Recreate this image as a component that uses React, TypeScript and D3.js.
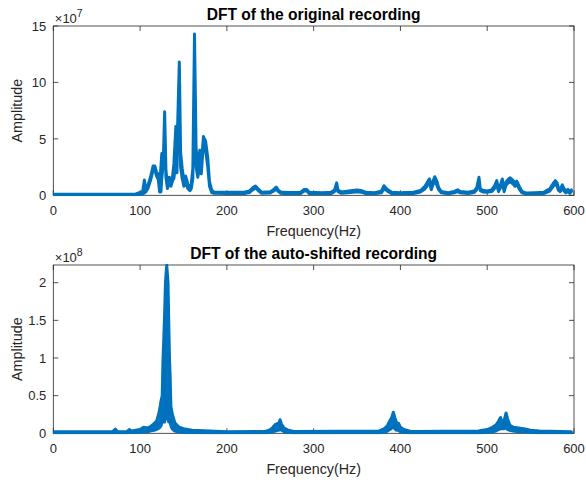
import React from "react";
import * as d3 from "d3";

// ---------- data ----------
const xTicks = [0, 100, 200, 300, 400, 500, 600];
const topYTicks = [0, 5, 10, 15];
const bottomYTicks = [0, 0.5, 1, 1.5, 2];

// original recording: [frequency Hz, lower, upper]  (amplitude ×10^7)
const originalSpectrum: [number, number, number][] = [
  [0, 0.05, 0.1], [95, 0.05, 0.12], [100, 0.08, 0.25], [103, 0.15, 0.35],
  [105, 0.2, 1.35], [106.5, 0.3, 0.5], [109, 0.6, 0.9], [112, 1.3, 1.6],
  [115, 2.2, 2.6], [117, 2.3, 2.6], [119, 1.7, 2.0], [121, 1.4, 1.9],
  [122.5, 0.3, 0.8], [124, 0.3, 2.5], [125, 1.5, 3.7], [126.8, 2.8, 3.2],
  [128.3, 6.5, 7.4], [129.8, 1.6, 2.2], [131.5, 0.6, 1.0], [133.5, 1.2, 1.6],
  [135.5, 0.8, 1.3], [137.5, 1.3, 1.7], [139, 1.5, 2.8], [141.2, 3.0, 6.1],
  [142.5, 2.0, 4.0], [145.2, 10.8, 11.8], [146.7, 2.5, 3.8], [148.5, 1.5, 2.4],
  [150.5, 0.8, 1.3], [152.5, 1.2, 1.7], [155, 0.6, 1.0], [157.5, 0.4, 0.7],
  [159, 0.6, 1.0], [160.8, 1.5, 2.4], [162.7, 13.2, 14.3], [164.5, 2.5, 4.3],
  [166.5, 1.6, 2.3], [168.8, 2.5, 4.0], [170.5, 1.9, 2.6], [173, 4.6, 5.2],
  [175.5, 4.0, 4.8], [178, 2.5, 3.3], [180, 0.8, 1.2], [182.5, 0.25, 0.45],
  [185, 0.18, 0.3], [200, 0.15, 0.26], [220, 0.15, 0.27], [226, 0.25, 0.38],
  [230, 0.5, 0.68], [233, 0.65, 0.82], [236, 0.42, 0.58], [240, 0.18, 0.28],
  [250, 0.2, 0.32], [254, 0.38, 0.52], [257, 0.55, 0.72], [259, 0.35, 0.48],
  [262, 0.18, 0.3], [270, 0.14, 0.24], [285, 0.16, 0.28], [289, 0.38, 0.52],
  [292, 0.38, 0.52], [295, 0.15, 0.27], [310, 0.13, 0.23], [320, 0.15, 0.27],
  [324, 0.32, 0.46], [326.5, 0.7, 1.1], [328, 0.32, 0.46], [332, 0.18, 0.3],
  [345, 0.28, 0.42], [350, 0.32, 0.46], [355, 0.28, 0.42], [360, 0.15, 0.27],
  [370, 0.13, 0.23], [378, 0.22, 0.36], [381, 0.55, 0.85], [383, 0.48, 0.66],
  [386, 0.32, 0.46], [390, 0.15, 0.27], [400, 0.13, 0.23], [415, 0.15, 0.27],
  [423, 0.28, 0.42], [428, 0.55, 0.78], [431, 0.85, 1.15], [433.5, 1.1, 1.45],
  [435.5, 0.5, 0.7], [437, 0.85, 1.15], [439.5, 1.25, 1.65], [442, 0.9, 1.25],
  [444, 0.5, 0.68], [447, 0.22, 0.34], [455, 0.13, 0.23], [462, 0.22, 0.34],
  [466, 0.33, 0.48], [469, 0.22, 0.34], [478, 0.15, 0.27], [485, 0.24, 0.38],
  [488, 0.5, 0.68], [490.5, 1.2, 1.6], [492, 0.42, 0.58], [495, 0.3, 0.44],
  [500, 0.26, 0.38], [505, 0.33, 0.48], [508, 0.55, 0.78], [511, 0.95, 1.3],
  [513, 0.32, 0.48], [515, 0.62, 0.88], [517.4, 1.1, 1.45], [519.5, 0.32, 0.48],
  [521.5, 0.85, 1.15], [524, 1.1, 1.4], [526.5, 1.2, 1.55], [530, 1.0, 1.3],
  [532, 0.8, 1.05], [534, 1.0, 1.25], [537, 0.55, 0.78], [540, 0.22, 0.34],
  [545, 0.12, 0.2], [555, 0.13, 0.23], [565, 0.15, 0.27], [572, 0.38, 0.58],
  [576, 0.8, 1.05], [578.5, 1.0, 1.3], [580.5, 0.8, 1.1], [582, 0.45, 0.68],
  [584, 0.32, 0.48], [586.5, 0.62, 0.92], [588.5, 0.38, 0.58], [590.5, 0.22, 0.38],
  [593, 0.36, 0.52], [595, 0.18, 0.28], [597, 0.32, 0.48],
];

// auto-shifted recording: [frequency Hz, lower, upper]  (amplitude ×10^8)
const shiftedSpectrum: [number, number, number][] = [
  [0, 0.005, 0.02], [68, 0.005, 0.02], [71.5, 0.01, 0.055], [74, 0.005, 0.02],
  [85, 0.005, 0.025], [87.5, 0.01, 0.05], [90, 0.01, 0.03], [100, 0.01, 0.05],
  [104, 0.02, 0.08], [108, 0.02, 0.07], [112, 0.03, 0.09], [116, 0.04, 0.13],
  [119, 0.05, 0.16], [122, 0.07, 0.28], [124, 0.1, 0.42], [125.5, 0.15, 0.5],
  [126.3, 0.15, 0.95], [127.3, 0.15, 1.25], [128.3, 0.15, 1.6], [129.2, 0.2, 2.0],
  [130.7, 0.3, 2.235], [132.2, 0.2, 2.0], [133, 0.15, 1.5], [134, 0.15, 0.95],
  [134.6, 0.15, 0.78], [135.5, 0.1, 0.36], [137, 0.06, 0.26], [140, 0.03, 0.14],
  [145, 0.015, 0.08], [150, 0.01, 0.06], [160, 0.008, 0.04], [180, 0.005, 0.03],
  [200, 0.005, 0.02], [245, 0.005, 0.025], [250, 0.01, 0.05], [253, 0.02, 0.08],
  [256, 0.03, 0.12], [258, 0.04, 0.13], [259.5, 0.04, 0.12], [261.3, 0.05, 0.18],
  [263, 0.04, 0.12], [266, 0.02, 0.07], [270, 0.01, 0.045], [277, 0.005, 0.025],
  [375, 0.005, 0.03], [381, 0.01, 0.06], [385, 0.03, 0.1], [388, 0.05, 0.17],
  [390, 0.07, 0.21], [391.8, 0.08, 0.28], [393.5, 0.06, 0.21], [395.5, 0.04, 0.14],
  [398, 0.04, 0.13], [400, 0.02, 0.08], [404, 0.01, 0.05], [412, 0.005, 0.025],
  [490, 0.005, 0.03], [500, 0.01, 0.05], [506, 0.02, 0.08], [510, 0.03, 0.11],
  [513, 0.05, 0.16], [515.3, 0.06, 0.21], [517.5, 0.06, 0.14], [519.5, 0.06, 0.17],
  [521.7, 0.08, 0.27], [523.5, 0.05, 0.19], [526, 0.04, 0.11], [530, 0.03, 0.08],
  [536, 0.02, 0.07], [542, 0.02, 0.06], [550, 0.01, 0.04], [560, 0.005, 0.03],
  [597, 0.005, 0.02],
];

// ---------- styling ----------
const W = 586;
const H = 484;
const FONT = "'Liberation Sans', Arial, Helvetica, sans-serif";
const AX = "#262626";
const BLUE = "#0072BD";

type PanelProps = {
  data: [number, number, number][];
  yMax: number;
  yTicks: number[];
  exponent: string;
  title: string;
  top: number;
  bottom: number;
  left: number;
  right: number;
};

function Panel({ data, yMax, yTicks, exponent, title, top, bottom, left, right }: PanelProps) {
  const x = d3.scaleLinear().domain([0, 600]).range([left, right]);
  const y = d3.scaleLinear().domain([0, yMax]).range([bottom, top]);
  const area = d3
    .area<[number, number, number]>()
    .x((d) => x(d[0]))
    .y0((d) => y(d[1]))
    .y1((d) => y(d[2]));
  const tickLen = 5;
  const cx = (left + right) / 2;
  const clipId = `clip-${Math.round(top)}`;
  return (
    <g>
      <defs>
        <clipPath id={clipId}>
          <rect x={left} y={top - 1} width={right - left} height={bottom - top + 2} />
        </clipPath>
      </defs>
      <rect x={left} y={top} width={right - left} height={bottom - top} fill="#fff" />
      <rect x={left} y={top} width={right - left} height={bottom - top} fill="none" stroke={AX} strokeWidth={0.8} />
      {xTicks.map((t) => (
        <g key={"x" + t}>
          <line x1={x(t)} x2={x(t)} y1={bottom} y2={bottom - tickLen} stroke={AX} strokeWidth={0.8} />
          <line x1={x(t)} x2={x(t)} y1={top} y2={top + tickLen} stroke={AX} strokeWidth={0.8} />
          <text x={x(t)} y={bottom + 19.5} textAnchor="middle" fontSize={13} fill={AX} fontFamily={FONT}>
            {t}
          </text>
        </g>
      ))}
      {yTicks.map((t) => (
        <g key={"y" + t}>
          <line x1={left} x2={left + tickLen} y1={y(t)} y2={y(t)} stroke={AX} strokeWidth={0.8} />
          <line x1={right} x2={right - tickLen} y1={y(t)} y2={y(t)} stroke={AX} strokeWidth={0.8} />
          <text x={left - 7} y={y(t) + 4.7} textAnchor="end" fontSize={13} fill={AX} fontFamily={FONT}>
            {t}
          </text>
        </g>
      ))}
      <path
        d={area(data) || ""}
        fill={BLUE}
        stroke={BLUE}
        strokeWidth={3}
        strokeLinejoin="round"
        clipPath={`url(#${clipId})`}
      />
      <text x={left + 1.5} y={top - 3.5} fontSize={13} fill={AX} fontFamily={FONT}>
        ×10
        <tspan dy={-6} fontSize={10.5}>
          {exponent}
        </tspan>
      </text>
      <text x={cx} y={top - 6.5} textAnchor="middle" fontSize={15.6} fontWeight="bold" fill="#000" fontFamily={FONT}>
        {title}
      </text>
      <text x={cx} y={bottom + 40.5} textAnchor="middle" fontSize={14.3} fill={AX} fontFamily={FONT}>
        Frequency(Hz)
      </text>
      <text
        transform={`translate(${left - 31},${(top + bottom) / 2}) rotate(-90)`}
        textAnchor="middle"
        fontSize={14.3}
        fill={AX}
        fontFamily={FONT}
      >
        Amplitude
      </text>
    </g>
  );
}

export default function App() {
  return (
    <svg
      width={W}
      height={H}
      viewBox={`0 0 ${W} ${H}`}
      style={{ position: "fixed", left: 0, top: 0, background: "#fff" }}
    >
      <rect width={W} height={H} fill="#fff" />
      <Panel
        data={originalSpectrum}
        yMax={15}
        yTicks={topYTicks}
        exponent="7"
        title="DFT of the original recording"
        top={26}
        bottom={195.3}
        left={53.3}
        right={574}
      />
      <Panel
        data={shiftedSpectrum}
        yMax={2.235}
        yTicks={bottomYTicks}
        exponent="8"
        title="DFT of the auto-shifted recording"
        top={265}
        bottom={433.3}
        left={53.3}
        right={574}
      />
    </svg>
  );
}
